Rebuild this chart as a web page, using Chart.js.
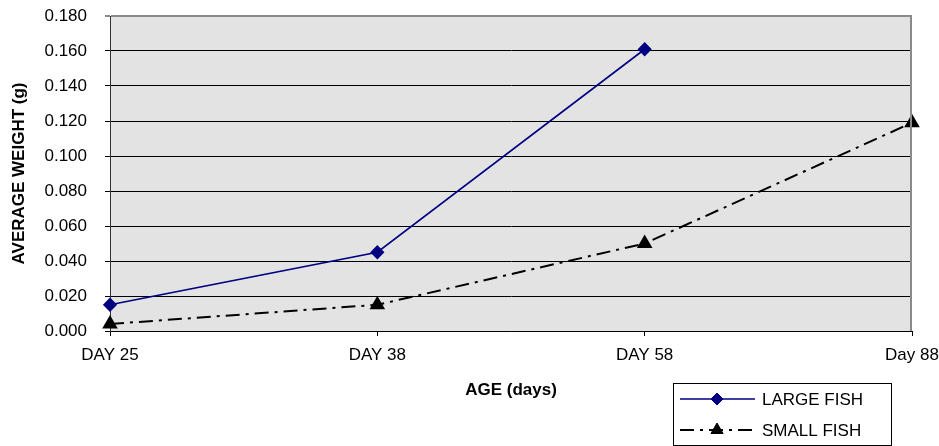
<!DOCTYPE html>
<html>
<head>
<meta charset="utf-8">
<script src="https://cdn.jsdelivr.net/npm/chart.js@4/dist/chart.umd.min.js"></script>
<style>
  html, body { margin: 0; padding: 0; background: #fff; }
  #wrap { width: 939px; height: 446px; }
</style>
</head>
<body>
<div id="wrap"><canvas id="fish-chart" width="939" height="446"></canvas></div>
<script>
/* ── Data ── */
const ageLabels   = ['DAY 25', 'DAY 38', 'DAY 58', 'Day 88'];
const largeFish   = [0.015, 0.045, 0.161, null];
const smallFish   = [0.004, 0.015, 0.050, 0.119];
const weightTicks = [0, 0.02, 0.04, 0.06, 0.08, 0.1, 0.12, 0.14, 0.16, 0.18];

const FONT = "'Liberation Sans', Arial, sans-serif";
const PLOT_BG = '#e3e3e3';

/* ── Plot background + gray frame ── */
const plotFrame = {
  id: 'plotFrame',
  beforeDraw(chart) {
    const { ctx, chartArea: a } = chart;
    ctx.save();
    ctx.fillStyle = PLOT_BG;
    ctx.fillRect(a.left, a.top, a.right - a.left, a.bottom - a.top);
    ctx.restore();
  },
  afterDatasetsDraw(chart) {
    const { ctx, chartArea: a } = chart;
    ctx.save();
    ctx.strokeStyle = '#8a8a8a';
    ctx.lineWidth = 2;
    ctx.beginPath();
    ctx.moveTo(Math.round(a.right) - 1, a.top);
    ctx.lineTo(Math.round(a.right) - 1, a.bottom);
    ctx.stroke();
    ctx.restore();
  }
};

/* ── Boxed legend bottom-right ── */
const boxLegend = {
  id: 'boxLegend',
  afterDraw(chart) {
    const { ctx } = chart;
    const box = { x: 673.5, y: 383.5, w: 218, h: 62 };
    const rows = [399, 430];
    ctx.save();
    ctx.fillStyle = '#fff';
    ctx.fillRect(box.x, box.y, box.w, box.h);
    ctx.strokeStyle = '#000';
    ctx.lineWidth = 1;
    ctx.strokeRect(box.x, box.y, box.w, box.h);

    chart.data.datasets.forEach((ds, i) => {
      const y = rows[i];
      ctx.save();
      ctx.strokeStyle = ds.borderColor;
      ctx.lineWidth = ds.borderWidth;
      ctx.setLineDash(ds.borderDash || []);
      ctx.beginPath();
      ctx.moveTo(680, y);
      ctx.lineTo(755, y);
      ctx.stroke();
      ctx.restore();

      ctx.save();
      ctx.fillStyle = ds.pointBackgroundColor;
      ctx.strokeStyle = ds.pointBorderColor;
      Chart.helpers.drawPoint(ctx, {
        pointStyle: ds.pointStyle, radius: ds.pointRadius, rotation: 0, borderWidth: 1
      }, 717, y);
      ctx.restore();

      ctx.fillStyle = '#000';
      ctx.font = '17px ' + FONT;
      ctx.textAlign = 'left';
      ctx.textBaseline = 'middle';
      ctx.fillText(ds.label, 762, y + 1);
    });
    ctx.restore();
  }
};

new Chart(document.getElementById('fish-chart'), {
  type: 'line',
  data: {
    labels: ageLabels,
    datasets: [
      {
        label: 'LARGE FISH',
        data: largeFish,
        borderColor: '#000080',
        borderWidth: 1.6,
        pointStyle: 'rectRot',
        pointRadius: 6,
        pointBackgroundColor: '#000080',
        pointBorderColor: '#000080',
        tension: 0
      },
      {
        label: 'SMALL FISH',
        data: smallFish,
        borderColor: '#000',
        borderWidth: 2,
        borderDash: [14, 6, 3, 6],
        pointStyle: 'triangle',
        pointRadius: 7,
        pointBackgroundColor: '#000',
        pointBorderColor: '#000',
        tension: 0
      }
    ]
  },
  options: {
    responsive: false,
    animation: false,
    layout: { padding: { left: 0, right: 27, top: 16, bottom: 0 } },
    plugins: {
      legend: { display: false },
      tooltip: { enabled: false }
    },
    scales: {
      x: {
        type: 'category',
        offset: false,
        grid: { drawOnChartArea: false, drawTicks: true, tickLength: 5, color: '#000' },
        border: { color: '#000', width: 1 },
        ticks: { color: '#000', font: { family: FONT, size: 17 }, padding: 9, maxRotation: 0, autoSkip: false },
        title: {
          display: true, text: 'AGE (days)', color: '#000',
          font: { family: FONT, size: 17, weight: 'bold' },
          padding: { top: 0, bottom: 45 }
        },
        afterFit: s => {
          s.height = 115;
          s.paddingLeft = 0;
          s.paddingRight = 0;
        }
      },
      y: {
        min: 0,
        max: 0.18,
        afterBuildTicks: s => { s.ticks = weightTicks.map(v => ({ value: v })); },
        grid: {
          color: c => (c.index === weightTicks.length - 1 ? '#8a8a8a' : '#000'),
          lineWidth: c => (c.index === weightTicks.length - 1 ? 2 : 1),
          tickLength: 5
        },
        border: { color: '#333', width: 1 },
        ticks: {
          color: '#000',
          font: { family: FONT, size: 17 },
          padding: 18,
          callback: v => Number(v).toFixed(3)
        },
        title: {
          display: true, text: 'AVERAGE WEIGHT (g)', color: '#000',
          font: { family: FONT, size: 17, weight: 'bold' },
          padding: { top: 9, bottom: 0 }
        },
        afterFit: s => {
          s.width = 110;
          s.paddingTop = 0;
          s.paddingBottom = 0;
        }
      }
    }
  },
  plugins: [plotFrame, boxLegend]
});
</script>
</body>
</html>
